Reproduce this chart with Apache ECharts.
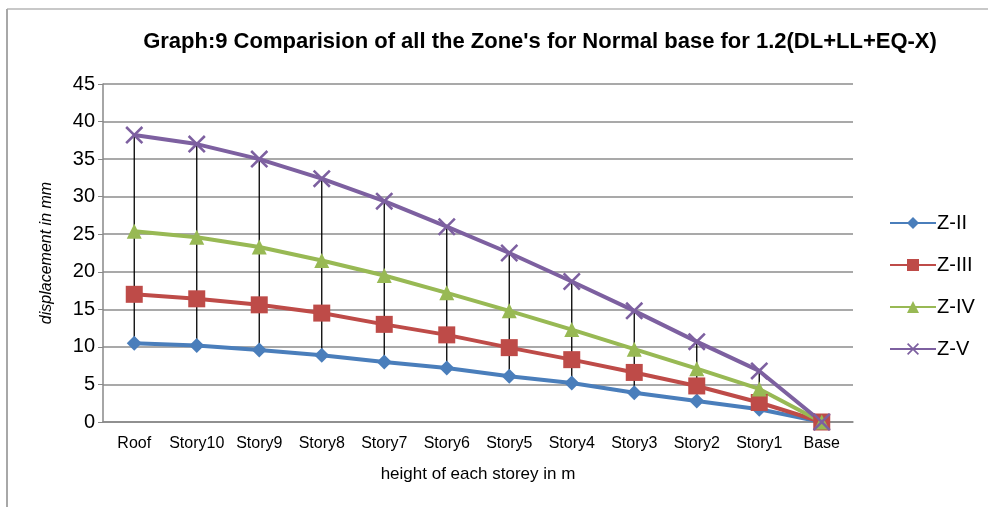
<!DOCTYPE html>
<html>
<head>
<meta charset="utf-8">
<script src="https://cdn.jsdelivr.net/npm/echarts@6/dist/echarts.min.js"></script>
<style>
html,body{margin:0;padding:0;background:#fff;}
#chart{width:988px;height:507px;}
</style>
</head>
<body>
<div id="chart"></div>
<script>
const categories = ['Roof','Story10','Story9','Story8','Story7','Story6','Story5','Story4','Story3','Story2','Story1','Base'];
const zII  = [10.5, 10.2, 9.6, 8.9, 8.0, 7.2, 6.1, 5.2, 3.9, 2.8, 1.7, 0];
const zIII = [17.0, 16.4, 15.6, 14.5, 13.0, 11.6, 9.9, 8.3, 6.6, 4.8, 2.6, 0];
const zIV  = [25.4, 24.6, 23.3, 21.5, 19.5, 17.2, 14.8, 12.3, 9.7, 7.1, 4.4, 0];
const zV   = [38.2, 37.0, 35.0, 32.4, 29.4, 26.0, 22.5, 18.7, 14.8, 10.7, 6.8, 0];
const yTicks = { min: 0, max: 45, interval: 5 };

const FONT = '"Liberation Sans Narrow", "Liberation Sans", Arial, sans-serif';
const seriesDefs = [
  { name: 'Z-II',  data: zII,  color: '#4A7EBB', symbol: 'diamond', size: 15 },
  { name: 'Z-III', data: zIII, color: '#BE4B48', symbol: 'rect', size: 17 },
  { name: 'Z-IV',  data: zIV,  color: '#98B954', symbol: 'triangle', size: 15 },
  { name: 'Z-V',   data: zV,   color: '#7D60A0', symbol: 'path://M0,1 L1,0 L5,4 L9,0 L10,1 L6,5 L10,9 L9,10 L5,6 L1,10 L0,9 L4,5 Z', size: 18 }
];

const hiLo = categories.map((c, i) => {
  const vals = seriesDefs.map(s => s.data[i]);
  return [i, Math.min(...vals), Math.max(...vals)];
});

const chart = echarts.init(document.getElementById('chart'));
chart.setOption({
  backgroundColor: '#fff',
  animation: false,
  textStyle: { fontFamily: FONT },
  title: {
    text: "Graph:9 Comparision of all the Zone's for Normal base for 1.2(DL+LL+EQ-X)",
    left: 540, top: 31, textAlign: 'center', padding: 0,
    textStyle: { fontFamily: FONT, fontWeight: 'bold', fontSize: 22, color: '#000' }
  },
  graphic: [
    { type: 'line', shape: { x1: 7, y1: 9, x2: 988, y2: 9 }, style: { stroke: '#c8c8c8', lineWidth: 2 } },
    { type: 'line', shape: { x1: 7, y1: 9, x2: 7, y2: 507 }, style: { stroke: '#a8a8a8', lineWidth: 2 } }
  ],
  legend: {
    data: seriesDefs.map(s => s.name),
    orient: 'vertical',
    left: 884, top: 208,
    itemWidth: 46, itemHeight: 15, itemGap: 22,
    textStyle: { fontFamily: FONT, fontSize: 20, color: '#000', padding: [0,0,0,-4] }
  },
  grid: { left: 103, right: 135, top: 84, bottom: 85, containLabel: false },
  xAxis: {
    type: 'category', data: categories, boundaryGap: true,
    name: 'height of each storey in m', nameLocation: 'middle', nameGap: 44,
    nameTextStyle: { fontFamily: FONT, fontSize: 17, color: '#000' },
    axisLine: { lineStyle: { color: '#888', width: 1.5 } },
    axisTick: { show: false },
    axisLabel: { fontFamily: FONT, fontSize: 16, color: '#000', margin: 14, interval: 0 }
  },
  yAxis: {
    type: 'value', min: yTicks.min, max: yTicks.max, interval: yTicks.interval,
    name: 'displacement in mm', nameLocation: 'middle', nameGap: 48, nameRotate: 90,
    nameTextStyle: { fontFamily: FONT, fontSize: 16, fontStyle: 'italic', color: '#000' },
    axisLine: { show: true, lineStyle: { color: '#888', width: 1.5 } },
    axisTick: { show: true, length: 5, lineStyle: { color: '#888' } },
    axisLabel: { fontFamily: FONT, fontSize: 20, color: '#000', margin: 8 },
    splitLine: { lineStyle: { color: '#8c8c8c', width: 1.5 } }
  },
  series: [
    {
      type: 'custom', name: 'hilo', data: hiLo, z: 1, silent: true,
      renderItem: function (params, api) {
        const p1 = api.coord([api.value(0), api.value(1)]);
        const p2 = api.coord([api.value(0), api.value(2)]);
        return { type: 'line', shape: { x1: p1[0], y1: p1[1], x2: p2[0], y2: p2[1] }, style: { stroke: '#000', lineWidth: 1.3 } };
      }
    }
  ].concat(seriesDefs.map(s => ({
    type: 'line', name: s.name, data: s.data, z: 2,
    symbol: s.symbol, symbolSize: s.size, showAllSymbol: true,
    lineStyle: { color: s.color, width: 4 },
    itemStyle: { color: s.color }
  })))
});
</script>
</body>
</html>
